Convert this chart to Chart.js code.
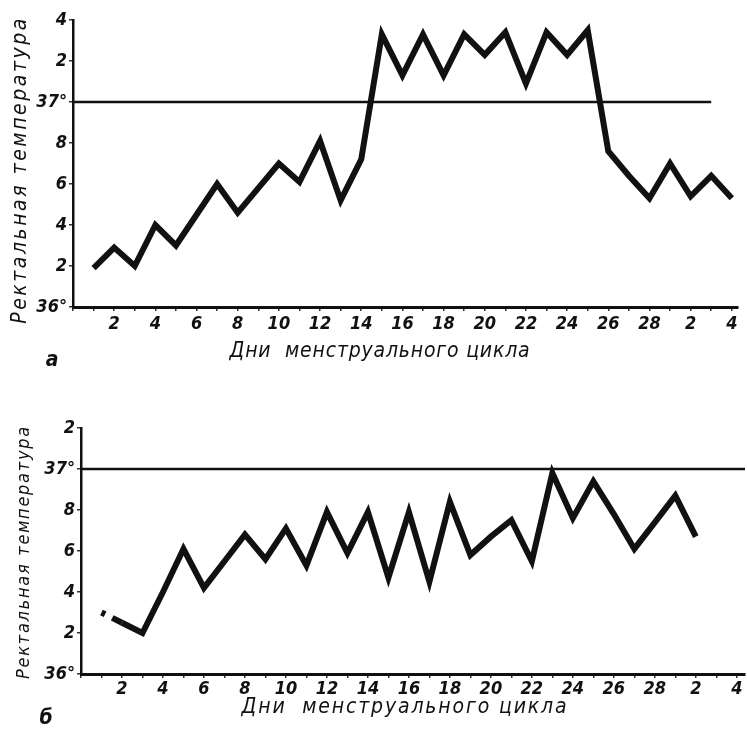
<!DOCTYPE html>
<html>
<head>
<meta charset="utf-8">
<script src="https://cdn.jsdelivr.net/npm/chart.js@4.4.1/dist/chart.umd.min.js"></script>
<style>
  html, body { margin: 0; padding: 0; background: #fff; }
  #wrap { position: relative; width: 747px; height: 735px; }
  .box { position: absolute; left: 0; width: 747px; }
  #box-a { top: 0; height: 372px; }
  #box-b { top: 372px; height: 363px; }
</style>
</head>
<body>
<div id="wrap">
  <div class="box" id="box-a"><canvas id="chart-a"></canvas></div>
  <div class="box" id="box-b"><canvas id="chart-b"></canvas></div>
</div>
<script>
// --- DATA ---
const days = [1, 2, 3, 4, 5, 6, 7, 8, 9, 10, 11, 12, 13, 14, 15, 16,
              17, 18, 19, 20, 21, 22, 23, 24, 25, 26, 27, 28, 29, 30, 31, 32];

// a: biphasic cycle
const tempsA = [36.19, 36.29, 36.20, 36.40, 36.30, 36.45, 36.60, 36.46, 36.58, 36.70, 36.61, 36.81, 36.52, 36.72,
                37.33, 37.13, 37.33, 37.13, 37.33, 37.23, 37.34, 37.09, 37.34, 37.23, 37.35,
                36.76, 36.64, 36.53, 36.70, 36.54, 36.64, 36.53];

// б: monophasic cycle
const tempsB = [36.30, 36.25, 36.20, 36.40, 36.61, 36.42, 36.55, 36.68, 36.56, 36.71, 36.53, 36.79, 36.59, 36.79,
                36.47, 36.79, 36.45, 36.84, 36.58, 36.67, 36.75, 36.55, 36.98, 36.76, 36.94, 36.78, 36.61,
                36.74, 36.87, 36.67, null, null];

const xTickDays = [2, 4, 6, 8, 10, 12, 14, 16, 18, 20, 22, 24, 26, 28, 30, 32];
const xTickLabels = ['2', '4', '6', '8', '10', '12', '14', '16', '18', '20', '22', '24', '26', '28', '2', '4'];
const yTickLabelsA = ['36°', '2', '4', '6', '8', '37°', '2', '4'];
const yTickLabelsB = ['36°', '2', '4', '6', '8', '37°', '2'];
const baselineTemp = 37;

// --- STYLE ---
const INK = '#111';
const HAND = "'DejaVu Sans Condensed', 'Liberation Sans Narrow', 'DejaVu Sans', sans-serif";
const tickFont = { family: HAND, size: 18, style: 'italic', weight: 'bold' };

// draws titles and panel letters, stretched to the reference width
const textPlugin = {
  id: 'figureText',
  afterDraw(chart, args, opts) {
    const ctx = chart.ctx;
    (opts.items || []).forEach(item => {
      ctx.save();
      ctx.font = item.font;
      ctx.fillStyle = INK;
      ctx.textAlign = 'center';
      ctx.textBaseline = 'middle';
      if (item.width) {
        ctx.letterSpacing = '0px';
        const w = ctx.measureText(item.text).width;
        ctx.letterSpacing = ((item.width - w) / (item.text.length - 1)).toFixed(2) + 'px';
      }
      ctx.translate(item.x, item.y);
      if (item.rotate) ctx.rotate(item.rotate);
      ctx.fillText(item.text, 0, 0);
      ctx.restore();
    });
  }
};

function makeChart(canvasId, temps, yLabels, cfg) {
  const yMax = 36 + (yLabels.length - 1) * 0.2;
  return new Chart(document.getElementById(canvasId), {
    type: 'line',
    data: {
      datasets: [
        {
          data: [{ x: 0, y: baselineTemp }, { x: cfg.baseEnd, y: baselineTemp }],
          borderColor: INK,
          borderWidth: 2.5,
          pointRadius: 0,
        },
        {
          data: days.map((d, i) => ({ x: d, y: temps[i] })),
          borderColor: INK,
          borderWidth: 6,
          borderJoinStyle: 'miter',
          pointRadius: 0,
          tension: 0,
          spanGaps: false,
          segment: cfg.brokenStart ? {
            borderDash: c => c.p0DataIndex === 0 ? [4, 8, 200, 0] : undefined
          } : undefined,
        }
      ]
    },
    options: {
      responsive: true,
      maintainAspectRatio: false,
      animation: false,
      layout: { padding: { left: 0, right: cfg.padRight, top: cfg.padTop, bottom: 0 } },
      plugins: {
        legend: { display: false },
        tooltip: { enabled: false },
        figureText: { items: cfg.texts },
      },
      scales: {
        x: {
          type: 'linear',
          min: 0,
          max: cfg.xMax,
          afterFit: s => { s.height = cfg.xHeight; },
          border: { display: true, color: INK, width: 3 },
          grid: { drawOnChartArea: false, color: '#333', lineWidth: 1.5, tickLength: 4 },
          ticks: {
            stepSize: 1,
            autoSkip: false,
            maxRotation: 0,
            includeBounds: false,
            color: INK,
            font: tickFont,
            padding: cfg.xPad,
            callback: v => {
              const i = xTickDays.indexOf(v);
              return i < 0 ? '' : xTickLabels[i];
            }
          }
        },
        y: {
          min: 36,
          max: yMax,
          afterFit: s => { s.width = cfg.yWidth; },
          border: { display: true, color: INK, width: 2.5 },
          grid: { drawOnChartArea: false, color: '#333', lineWidth: 1.5, tickLength: 4 },
          ticks: {
            stepSize: 0.1,
            includeBounds: false,
            color: INK,
            font: tickFont,
            padding: 2,
            callback: v => {
              const k = Math.round((v - 36) * 10);
              return k % 2 === 0 ? yLabels[k / 2] : '';
            }
          }
        }
      }
    },
    plugins: [textPlugin]
  });
}

// --- CHARTS ---
makeChart('chart-a', tempsA, yTickLabelsA, {
  yWidth: 73, padRight: 9, padTop: 20, xHeight: 65, xMax: 32.3, baseEnd: 31, xPad: 3,
  texts: [
    { text: 'Ректальная температура', x: 21, y: 170, rotate: -Math.PI / 2, width: 305, font: `italic 21px ${HAND}` },
    { text: 'Дни  менструального цикла', x: 380, y: 352, width: 300, font: `italic 21px ${HAND}` },
    { text: 'а', x: 52, y: 361, font: `italic bold 21px ${HAND}` },
  ]
});

makeChart('chart-b', tempsB, yTickLabelsB, {
  yWidth: 81, padRight: 2, padTop: 56, xHeight: 61, xMax: 32.4, baseEnd: 32.4, brokenStart: true, xPad: 1,
  texts: [
    { text: 'Ректальная температура', x: 24, y: 180, rotate: -Math.PI / 2, width: 252, font: `italic 18px ${HAND}` },
    { text: 'Дни  менструального цикла', x: 405, y: 336, width: 325, font: `italic 21px ${HAND}` },
    { text: 'б', x: 46, y: 347, font: `italic bold 21px ${HAND}` },
  ]
});
</script>
</body>
</html>
